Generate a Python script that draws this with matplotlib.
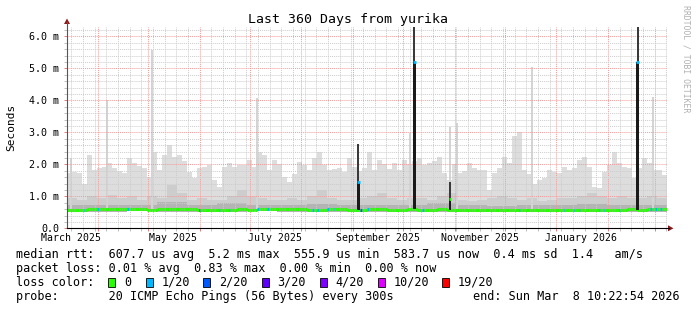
import numpy as np
import matplotlib.pyplot as plt
from datetime import datetime, timedelta
from matplotlib.patches import Rectangle, Polygon

plt.rcParams['font.family'] = 'DejaVu Sans Mono'

# ---- data (ms) ----
start = datetime(2025, 3, 13, 10, 22, 54)
n_days = 360

# max ping (outer smoke), one value per 3 days
smoke_max = [1.72, 1.77, 1.72, 1.40, 2.30, 1.82, 1.90, 1.93, 2.03, 1.88,
             1.80, 1.72, 2.19, 2.03, 1.95, 1.88, 1.60, 2.40, 1.82, 2.30,
             2.60, 2.24, 2.30, 2.10, 1.77, 1.56, 1.90, 1.93, 1.98, 1.50,
             1.30, 1.93, 2.03, 1.93, 1.98, 1.98, 2.14, 1.93, 2.40, 2.30,
             1.82, 2.14, 2.00, 1.60, 1.46, 1.70, 2.08, 1.98, 1.82, 2.20,
             2.40, 1.98, 1.82, 1.85, 1.88, 1.75, 2.19, 1.93, 1.80, 1.90,
             2.40, 1.82, 2.14, 2.00, 1.85, 2.03, 1.82, 2.14, 2.00, 2.10,
             2.19, 1.98, 2.03, 2.10, 2.24, 1.72, 1.50, 2.00, 1.72, 1.80,
             2.03, 1.88, 1.82, 1.82, 1.20, 1.72, 1.90, 2.24, 2.03, 2.90,
             3.00, 1.82, 1.70, 1.40, 1.50, 1.56, 1.82, 1.75, 1.72, 1.93,
             1.82, 1.90, 2.14, 2.24, 1.93, 1.30, 1.25, 1.77, 1.98, 2.40,
             2.03, 1.93, 1.90, 1.56, 1.90, 2.19, 2.03, 1.82, 1.82, 1.67]

# middle smoke, one value per 6 days
smoke_mid = [0.95, 0.90, 1.00, 0.95, 1.05, 0.95, 1.00, 0.90, 1.00, 0.95,
             1.35, 1.10, 0.90, 0.95, 0.90, 0.90, 1.00, 1.20, 1.00, 0.95,
             0.90, 0.90, 0.95, 0.90, 1.00, 1.20, 0.95, 0.90, 0.90, 0.95,
             1.00, 1.10, 0.95, 0.90, 0.95, 0.95, 0.90, 1.00, 1.10, 0.90,
             0.85, 0.90, 0.95, 1.00, 0.95, 0.90, 0.95, 0.85, 0.90, 0.95,
             0.95, 1.00, 1.10, 1.00, 0.95, 1.00, 0.95, 0.95, 1.00, 0.95]

# inner smoke and min ping, one value per 18 days
smoke_q = [0.72, 0.74, 0.73, 0.82, 0.72, 0.78, 0.74, 0.72, 0.76, 0.72,
           0.74, 0.73, 0.78, 0.72, 0.71, 0.72, 0.74, 0.76, 0.74, 0.74]
smoke_min = [0.52, 0.52, 0.53, 0.52, 0.52, 0.52, 0.53, 0.52, 0.52, 0.52,
             0.52, 0.52, 0.52, 0.52, 0.52, 0.52, 0.52, 0.52, 0.52, 0.52]

# median rtt, one value per 6 days
median = [0.58, 0.58, 0.59, 0.60, 0.60, 0.59, 0.60, 0.59, 0.58, 0.60,
          0.61, 0.61, 0.60, 0.58, 0.57, 0.57, 0.58, 0.59, 0.58, 0.59,
          0.60, 0.60, 0.59, 0.60, 0.58, 0.58, 0.59, 0.59, 0.58, 0.57,
          0.60, 0.59, 0.58, 0.58, 0.59, 0.58, 0.58, 0.59, 0.58, 0.58,
          0.58, 0.58, 0.57, 0.58, 0.58, 0.57, 0.57, 0.58, 0.57, 0.57,
          0.57, 0.58, 0.58, 0.57, 0.57, 0.58, 0.59, 0.58, 0.59, 0.59]

# days with packet loss (x/20)
loss_day = [10, 18, 36, 79, 91, 97, 114, 120, 147, 150, 156, 160, 176, 180,
            213, 271, 298, 304, 307, 319, 322, 331, 350, 353, 356]
loss_n = [1, 1, 1, 2, 1, 1, 1, 1, 1, 1, 1, 1, 2, 1,
          1, 1, 1, 1, 1, 1, 1, 1, 1, 1, 1]

# single-day smoke spikes
spike_day = [2.4, 23.8, 50.8, 114.2, 205.8, 229.8, 233.8, 278.8, 351.8]
spike_top = [2.19, 4.00, 5.56, 4.07, 2.97, 3.17, 3.28, 5.04, 4.10]

# days with high median
hi_day = [174.8, 208.4, 229.8, 342.4]
hi_med = [1.46, 5.20, 0.91, 5.20]
hi_max = [2.65, 6.30, 1.45, 6.30]
hi_loss = [1, 1, 0, 1]

loss_colors = {0: '#26ff00', 1: '#00b8ff', 2: '#0059ff', 3: '#5e00ff',
               4: '#7e00ff', 10: '#dd00ff', 19: '#ff0000'}

W, H = 697, 310
fig = plt.figure(figsize=(W / 100, H / 100), dpi=100)
fx = lambda x: x / W
fy = lambda y: 1 - y / H

left, right, bottom, top = 67, 667, 228.3, 26.7
ax = fig.add_axes([fx(left), fy(bottom), (right - left) / W, (bottom - top) / H])
ax.set_xlim(0, n_days)
ax.set_ylim(0, 6.3)


def band(width, lo, hi, color):
    x = np.arange(len(hi) + 1) * width
    lo = np.append(lo, lo[-1])
    hi = np.append(hi, hi[-1])
    ax.fill_between(x, lo, hi, step='post', color=color, lw=0, zorder=1)


mins = np.array(smoke_min)
band(3, np.repeat(mins, 6), np.array(smoke_max), '#dddddd')
band(6, np.repeat(mins, 3), np.array(smoke_mid), '#cdcdcd')
band(18, mins, np.array(smoke_q), '#b4b4b4')

ax.bar(spike_day, np.array(spike_top) - 0.6, bottom=0.6, width=1.1,
       color='#d4d4d4', lw=0, zorder=1)

# median line coloured by loss
med_daily = np.repeat(median, 6).astype(float)
loss_daily = np.zeros(n_days, dtype=int)
loss_daily[loss_day] = loss_n
days = np.arange(n_days)
ax.hlines(med_daily, days, days + 1, colors=[loss_colors[v] for v in loss_daily],
          lw=2.2, zorder=3)

# high-latency days
base = med_daily[np.array(hi_day).astype(int)]
ax.bar(hi_day, np.array(hi_max) - np.array(hi_med), bottom=hi_med, width=1.1,
       color='#3a3a3a', lw=0, zorder=3.2)
ax.bar(hi_day, np.array(hi_med) - base, bottom=base, width=1.7,
       color='#1a1a1a', lw=0, zorder=3.2)
ax.hlines(hi_med, np.array(hi_day) - 0.8, np.array(hi_day) + 0.8,
          colors=[loss_colors[v] for v in hi_loss], lw=2.0, zorder=3.5)


# grid
def dnum(d):
    return (d - start).total_seconds() / 86400


months = []
y, m = 2025, 4
while dnum(datetime(y, m, 1)) < n_days:
    months.append(dnum(datetime(y, m, 1)))
    m += 1
    if m > 12:
        y, m = y + 1, 1
weeks = []
d = datetime(2025, 3, 16)
while dnum(d) < n_days:
    weeks.append(dnum(d))
    d += timedelta(days=7)

ax.set_xticks(months)
ax.set_xticks(weeks, minor=True)
ax.set_xticklabels([])
ax.set_yticks(range(7))
ax.set_yticklabels(['0.0'] + ['%d.0 m' % v for v in range(1, 7)], fontsize=7.2)
ax.set_yticks(np.arange(0.2, 6.3, 0.2), minor=True)
ax.set_axisbelow(False)
ax.grid(which='minor', color='#cccccc', linestyle=(0, (1, 1)), lw=0.7)
ax.grid(which='major', color='#f59a9a', linestyle=(0, (1, 1)), lw=0.7)
ax.tick_params(which='major', length=2, width=0.7, color='#e08080', pad=3.6)
ax.tick_params(which='minor', length=2, width=0.7, color='#c0c0c0')
for s in ax.spines.values():
    s.set_visible(False)

# x labels in the middle of every second month
lab_months = [(2025, 3), (2025, 5), (2025, 7), (2025, 9), (2025, 11), (2026, 1)]
for yy, mm in lab_months:
    pos = dnum(datetime(yy, mm, 1) + timedelta(days=15))
    fig.text(fx(left) + pos / n_days * (right - left) / W, fy(238.2),
             datetime(yy, mm, 1).strftime('%B %Y'), ha='center', va='center',
             fontsize=7.1)

# axes lines and arrows
fig.add_artist(plt.Line2D([fx(left), fx(left)], [fy(bottom), fy(22)], color='#555555', lw=0.8))
fig.add_artist(plt.Line2D([fx(left), fx(669)], [fy(bottom), fy(bottom)], color='black', lw=0.8))
arrow_c = '#8b1a1a'
fig.add_artist(Polygon([[fx(left - 3), fy(24)], [fx(left + 3), fy(24)], [fx(left), fy(18.5)]],
                       closed=True, color=arrow_c, lw=0))
fig.add_artist(Polygon([[fx(668), fy(bottom - 3)], [fx(668), fy(bottom + 3)], [fx(673.5), fy(bottom)]],
                       closed=True, color=arrow_c, lw=0))

# title, labels
fig.text(0.5, fy(19.5), 'Last 360 Days from yurika', ha='center', va='center', fontsize=9.5)
fig.text(fx(11), fy(127.5), 'Seconds', rotation=90, ha='center', va='center', fontsize=8)
fig.text(fx(686), fy(5), 'RRDTOOL / TOBI OETIKER', rotation=270, ha='center', va='top',
         fontsize=5.9, color='#b0b0b0')

fs = 8.5
line1 = 'median rtt:  607.7 us avg  5.2 ms max  555.9 us min  583.7 us now  0.4 ms sd  1.4   am/s'
line2 = 'packet loss: 0.01 % avg  0.83 % max  0.00 % min  0.00 % now'
line4 = 'probe:       20 ICMP Echo Pings (56 Bytes) every 300s'
fig.text(fx(16), fy(254.3), line1, ha='left', va='center', fontsize=fs)
fig.text(fx(16), fy(268.3), line2, ha='left', va='center', fontsize=fs)
fig.text(fx(16), fy(296.2), line4, ha='left', va='center', fontsize=fs)
fig.text(fx(680), fy(296.2), 'end: Sun Mar  8 10:22:54 2026', ha='right', va='center', fontsize=fs)

fig.text(fx(16), fy(282.3), 'loss color:', ha='left', va='center', fontsize=fs)
legend_keys = [0, 1, 2, 3, 4, 10, 19]
legend_labels = ['0', '1/20', '2/20', '3/20', '4/20', '10/20', '19/20']
box_x = [108.3, 145.7, 203.3, 261.7, 320, 377.7, 442.3]
for k, lab, bx in zip(legend_keys, legend_labels, box_x):
    fig.add_artist(Rectangle((fx(bx), fy(287)), 7 / W, 9 / H, transform=fig.transFigure,
                             facecolor=loss_colors[k], edgecolor='black', lw=0.6))
    fig.text(fx(bx + 15.5), fy(282.3), lab, ha='left', va='center', fontsize=fs)

fig.savefig('out.png', dpi=100, facecolor='white')
